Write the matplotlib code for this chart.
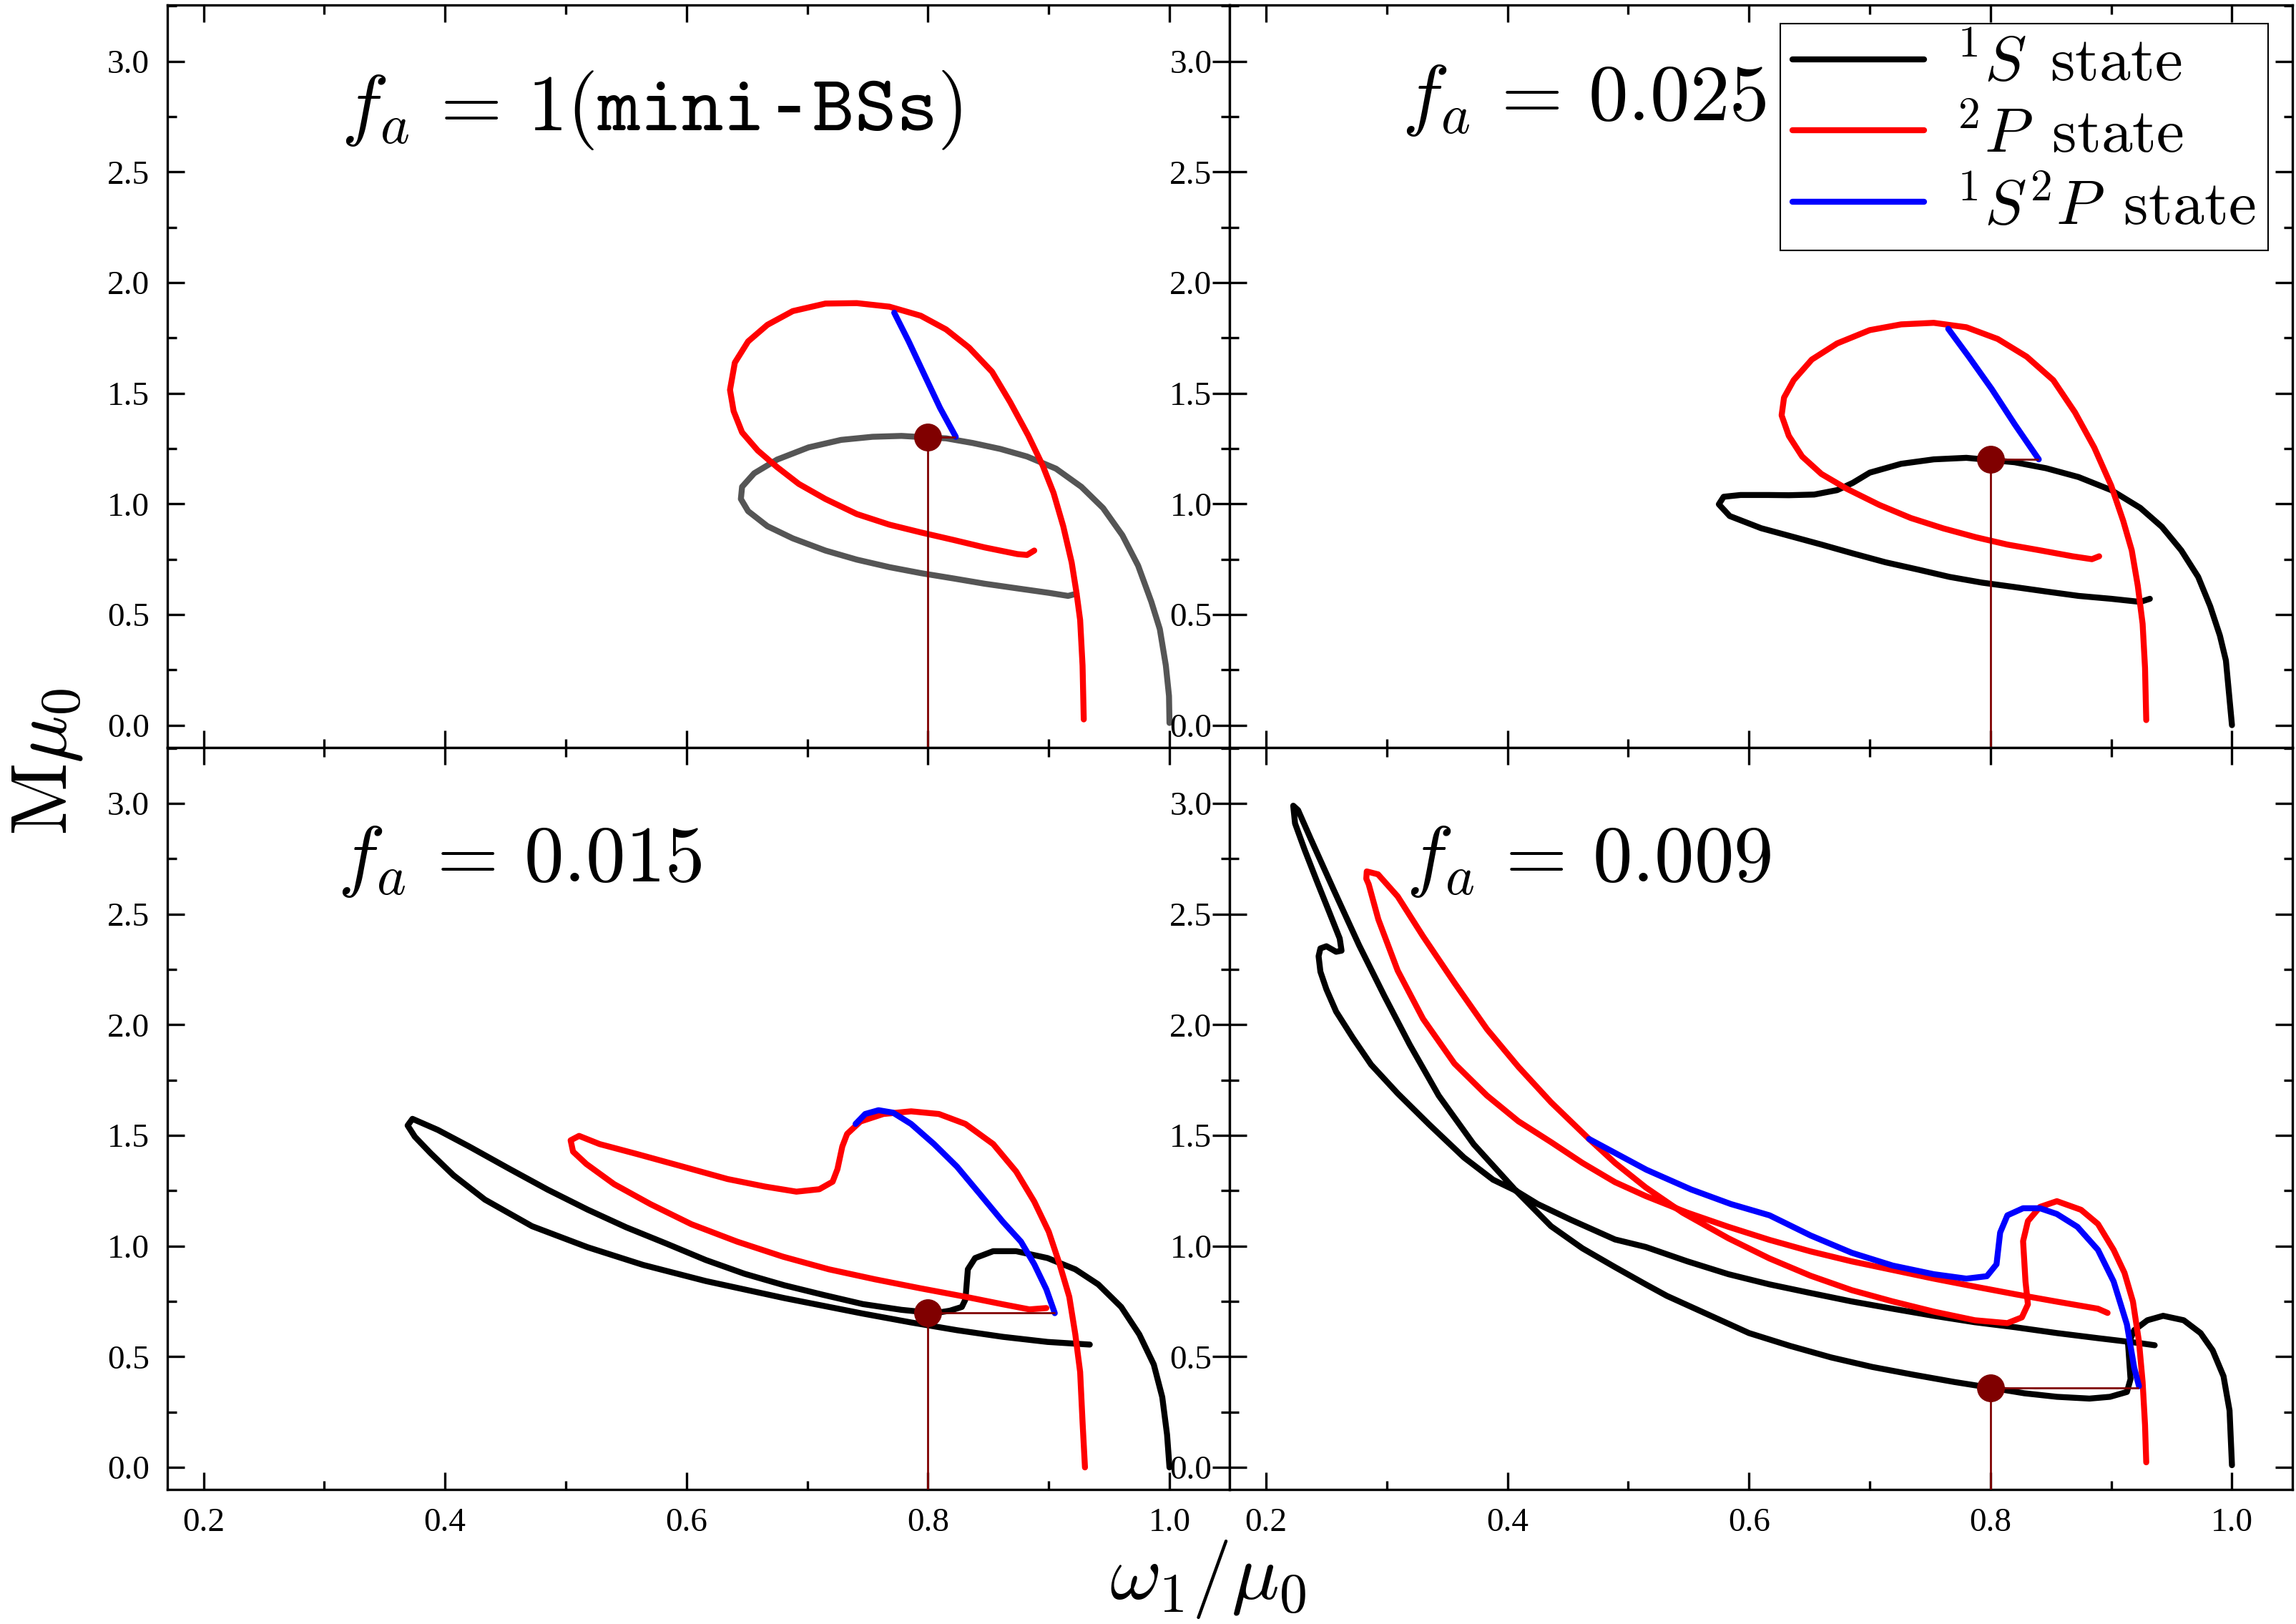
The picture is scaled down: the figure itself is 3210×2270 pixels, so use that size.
import matplotlib.pyplot as plt
from matplotlib.ticker import MultipleLocator, FormatStrFormatter

plt.rcParams['mathtext.fontset'] = 'cm'
plt.rcParams['font.family'] = ['Liberation Serif', 'DejaVu Serif']

# ---- f_a = 1 (mini-BSs) ----
s1_x = [1.000, 0.9996, 0.997, 0.992, 0.985, 0.974, 0.961, 0.945, 0.927, 0.906, 0.882, 0.860,
        0.837, 0.815, 0.800, 0.778, 0.754, 0.728, 0.701, 0.675, 0.656, 0.646, 0.645, 0.651,
        0.667, 0.688, 0.715, 0.741, 0.768, 0.794, 0.821, 0.847, 0.874, 0.900, 0.916, 0.923]
s1_y = [0.010, 0.132, 0.269, 0.434, 0.557, 0.721, 0.858, 0.981, 1.077, 1.159, 1.214, 1.248,
        1.275, 1.296, 1.300, 1.307, 1.303, 1.289, 1.255, 1.200, 1.138, 1.077, 1.022, 0.967,
        0.899, 0.844, 0.789, 0.748, 0.714, 0.687, 0.663, 0.639, 0.618, 0.598, 0.584, 0.594]
p1_x = [0.929, 0.928, 0.926, 0.923, 0.919, 0.912, 0.904, 0.895, 0.883, 0.868, 0.853, 0.834,
        0.815, 0.794, 0.768, 0.741, 0.715, 0.688, 0.667, 0.651, 0.640, 0.636, 0.639, 0.646,
        0.659, 0.675, 0.693, 0.715, 0.741, 0.768, 0.794, 0.821, 0.847, 0.874, 0.882, 0.888]
p1_y = [0.026, 0.269, 0.475, 0.598, 0.735, 0.899, 1.049, 1.173, 1.309, 1.460, 1.597, 1.706,
        1.788, 1.850, 1.891, 1.907, 1.905, 1.871, 1.809, 1.734, 1.638, 1.515, 1.419, 1.323,
        1.241, 1.166, 1.090, 1.022, 0.954, 0.906, 0.871, 0.837, 0.803, 0.773, 0.769, 0.789]
sp1_x = [0.772, 0.784, 0.797, 0.810, 0.823]
sp1_y = [1.864, 1.734, 1.583, 1.433, 1.303]

# ---- f_a = 0.025 ----
s2_x = [1.000, 0.995, 0.990, 0.982, 0.972, 0.958, 0.942, 0.924, 0.900, 0.873, 0.846, 0.820,
        0.800, 0.780, 0.753, 0.726, 0.700, 0.686, 0.673, 0.654, 0.633, 0.616, 0.593, 0.579,
        0.575, 0.584, 0.610, 0.633, 0.660, 0.686, 0.713, 0.740, 0.766, 0.793, 0.820, 0.846,
        0.873, 0.900, 0.924, 0.932]
s2_y = [0.000, 0.292, 0.405, 0.537, 0.670, 0.790, 0.896, 0.982, 1.062, 1.121, 1.161, 1.188,
        1.198, 1.208, 1.201, 1.181, 1.141, 1.095, 1.062, 1.042, 1.039, 1.040, 1.040, 1.032,
        0.998, 0.945, 0.890, 0.856, 0.816, 0.776, 0.736, 0.703, 0.670, 0.644, 0.624, 0.604,
        0.584, 0.571, 0.557, 0.571]
p2_x = [0.929, 0.928, 0.926, 0.922, 0.917, 0.910, 0.900, 0.886, 0.870, 0.852, 0.830, 0.806,
        0.780, 0.753, 0.726, 0.700, 0.673, 0.652, 0.637, 0.629, 0.627, 0.633, 0.644, 0.660,
        0.681, 0.708, 0.734, 0.761, 0.788, 0.814, 0.841, 0.868, 0.884, 0.890]
p2_y = [0.023, 0.259, 0.458, 0.630, 0.790, 0.922, 1.082, 1.254, 1.413, 1.559, 1.665, 1.745,
        1.798, 1.818, 1.811, 1.785, 1.725, 1.652, 1.559, 1.480, 1.400, 1.307, 1.214, 1.135,
        1.068, 0.995, 0.936, 0.889, 0.849, 0.816, 0.790, 0.763, 0.750, 0.763]
sp2_x = [0.765, 0.782, 0.801, 0.820, 0.840]
sp2_y = [1.791, 1.665, 1.519, 1.360, 1.201]

# ---- f_a = 0.015 ----
s3_x = [1.000, 0.998, 0.994, 0.987, 0.975, 0.960, 0.941, 0.922, 0.899, 0.873, 0.854, 0.839,
        0.833, 0.831, 0.828, 0.818, 0.809, 0.800, 0.778, 0.746, 0.713, 0.681, 0.648, 0.616,
        0.583, 0.550, 0.518, 0.485, 0.453, 0.420, 0.394, 0.373, 0.369, 0.375, 0.388, 0.407,
        0.433, 0.472, 0.518, 0.564, 0.616, 0.681, 0.746, 0.786, 0.824, 0.862, 0.899, 0.934]
s3_y = [0.000, 0.148, 0.318, 0.465, 0.601, 0.725, 0.827, 0.895, 0.946, 0.977, 0.977, 0.946,
        0.895, 0.759, 0.725, 0.708, 0.700, 0.700, 0.712, 0.738, 0.780, 0.823, 0.875, 0.937,
        1.012, 1.085, 1.165, 1.255, 1.350, 1.450, 1.525, 1.575, 1.545, 1.494, 1.420, 1.320,
        1.210, 1.090, 0.995, 0.915, 0.842, 0.765, 0.695, 0.655, 0.620, 0.590, 0.567, 0.555]
p3_x = [0.930, 0.928, 0.926, 0.922, 0.917, 0.909, 0.900, 0.888, 0.873, 0.854, 0.831, 0.809,
        0.786, 0.763, 0.744, 0.733, 0.729, 0.725, 0.721, 0.710, 0.691, 0.665, 0.634, 0.597,
        0.559, 0.528, 0.511, 0.504, 0.506, 0.517, 0.540, 0.570, 0.604, 0.642, 0.680, 0.718,
        0.756, 0.793, 0.831, 0.862, 0.884, 0.898]
p3_y = [0.000, 0.205, 0.431, 0.601, 0.771, 0.918, 1.065, 1.201, 1.337, 1.461, 1.552, 1.597,
        1.609, 1.597, 1.563, 1.507, 1.450, 1.348, 1.291, 1.257, 1.246, 1.269, 1.303, 1.359,
        1.416, 1.461, 1.498, 1.478, 1.427, 1.371, 1.280, 1.190, 1.099, 1.020, 0.952, 0.895,
        0.850, 0.810, 0.771, 0.737, 0.714, 0.720]
sp3_x = [0.740, 0.748, 0.759, 0.771, 0.786, 0.805, 0.824, 0.843, 0.862, 0.877, 0.888, 0.898, 0.905]
sp3_y = [1.552, 1.597, 1.614, 1.603, 1.552, 1.461, 1.359, 1.235, 1.110, 1.020, 0.918, 0.805, 0.697]

# ---- f_a = 0.009 ----
s4_x = [1.000, 0.998, 0.993, 0.984, 0.974, 0.960, 0.943, 0.930, 0.919, 0.914, 0.916, 0.913,
        0.899, 0.882, 0.855, 0.828, 0.800, 0.770, 0.736, 0.702, 0.668, 0.634, 0.600, 0.566,
        0.532, 0.5145, 0.489, 0.462, 0.436, 0.407, 0.372, 0.343, 0.319, 0.298, 0.277, 0.256,
        0.237, 0.2265, 0.2225, 0.224, 0.232, 0.242, 0.253, 0.261, 0.2625, 0.258, 0.250, 0.245,
        0.2435, 0.245, 0.250, 0.258, 0.272, 0.287, 0.309, 0.335, 0.364, 0.388, 0.407, 0.425,
        0.452, 0.489, 0.5145, 0.549, 0.583, 0.617, 0.651, 0.685, 0.719, 0.753, 0.787, 0.821,
        0.855, 0.889, 0.923, 0.936]
s4_y = [0.010, 0.257, 0.412, 0.529, 0.607, 0.665, 0.685, 0.665, 0.620, 0.555, 0.399, 0.341,
        0.319, 0.311, 0.319, 0.335, 0.360, 0.386, 0.419, 0.454, 0.497, 0.549, 0.607, 0.691,
        0.775, 0.827, 0.905, 0.990, 1.090, 1.250, 1.460, 1.680, 1.910, 2.130, 2.360, 2.610,
        2.840, 2.970, 2.990, 2.910, 2.790, 2.650, 2.500, 2.390, 2.335, 2.330, 2.355, 2.345,
        2.310, 2.240, 2.160, 2.060, 1.940, 1.820, 1.690, 1.550, 1.400, 1.300, 1.250, 1.190,
        1.120, 1.030, 0.996, 0.931, 0.873, 0.827, 0.788, 0.750, 0.717, 0.685, 0.656, 0.633,
        0.607, 0.584, 0.562, 0.552]
p4_x = [0.929, 0.928, 0.926, 0.923, 0.918, 0.911, 0.902, 0.889, 0.875, 0.855, 0.841, 0.831,
        0.827, 0.829, 0.831, 0.826, 0.814, 0.787, 0.753, 0.719, 0.685, 0.651, 0.617, 0.583,
        0.545, 0.5145, 0.489, 0.4675, 0.436, 0.409, 0.383, 0.356, 0.330, 0.309, 0.2927, 0.2834,
        0.283, 0.285, 0.293, 0.309, 0.330, 0.356, 0.383, 0.409, 0.436, 0.462, 0.489, 0.5145,
        0.549, 0.583, 0.617, 0.651, 0.685, 0.719, 0.753, 0.787, 0.821, 0.855, 0.889, 0.897]
p4_y = [0.023, 0.192, 0.386, 0.568, 0.749, 0.879, 0.983, 1.100, 1.164, 1.203, 1.177, 1.113,
        1.022, 0.840, 0.737, 0.678, 0.652, 0.665, 0.704, 0.750, 0.801, 0.866, 0.944, 1.035,
        1.151, 1.265, 1.376, 1.484, 1.650, 1.810, 1.980, 2.190, 2.400, 2.580, 2.680, 2.693,
        2.660, 2.635, 2.476, 2.245, 2.027, 1.825, 1.680, 1.564, 1.470, 1.376, 1.289, 1.226,
        1.151, 1.087, 1.028, 0.976, 0.931, 0.892, 0.853, 0.817, 0.782, 0.749, 0.717, 0.698]
sp4_x = [0.4675, 0.515, 0.552, 0.585, 0.617, 0.651, 0.685, 0.719, 0.753, 0.780, 0.797, 0.805,
         0.808, 0.814, 0.827, 0.841, 0.855, 0.872, 0.889, 0.902, 0.913, 0.919, 0.923]
sp4_y = [1.484, 1.345, 1.256, 1.190, 1.139, 1.048, 0.970, 0.912, 0.873, 0.853, 0.864, 0.918,
         1.061, 1.139, 1.171, 1.171, 1.145, 1.087, 0.983, 0.840, 0.646, 0.451, 0.367]

titles = [r'$f_a\,=\,1(\mathtt{mini}$-$\mathtt{BSs})$', r'$f_a\,=\,0.025$',
          r'$f_a\,=\,0.015$', r'$f_a\,=\,0.009$']
point_x = [0.8, 0.8, 0.8, 0.8]
point_y = [1.30, 1.20, 0.70, 0.36]

S_data = [(s1_x, s1_y), (s2_x, s2_y), (s3_x, s3_y), (s4_x, s4_y)]
P_data = [(p1_x, p1_y), (p2_x, p2_y), (p3_x, p3_y), (p4_x, p4_y)]
SP_data = [(sp1_x, sp1_y), (sp2_x, sp2_y), (sp3_x, sp3_y), (sp4_x, sp4_y)]
s_colors = ['#555555', 'black', 'black', 'black']
title_pos = [(0.1635, 0.831), (0.162, 0.845), (0.160, 0.819), (0.166, 0.819)]

fig, axs = plt.subplots(2, 2, figsize=(32.1, 22.7), dpi=100)
fig.subplots_adjust(left=0.0729, right=0.9984, top=0.9969, bottom=0.0828, wspace=0, hspace=0)

lw = 6
for i, ax in enumerate(axs.flat):
    ax.plot(*S_data[i], color=s_colors[i], lw=lw, solid_capstyle='round', solid_joinstyle='round',
            label=r'$^{1}S\ \,\mathrm{state}$')
    ax.plot(*P_data[i], color='red', lw=lw, solid_capstyle='round', solid_joinstyle='round',
            label=r'$^{2}P\ \,\mathrm{state}$')
    ax.plot(*SP_data[i], color='blue', lw=lw, solid_capstyle='round', solid_joinstyle='round',
            label=r'$^{1}S^{2}P\ \,\mathrm{state}$')

    ax.set_xlim(0.17, 1.05)
    ax.set_ylim(-0.1, 3.254)
    # 交点から下への線と右への線
    ax.vlines(point_x[i], ax.get_ylim()[0], point_y[i], color='#800000', lw=2, zorder=4)
    ax.hlines(point_y[i], point_x[i], SP_data[i][0][-1], color='#800000', lw=2, zorder=4)
    ax.plot(point_x[i], point_y[i], 'o', color='#800000', ms=27, zorder=5)

    ax.text(title_pos[i][0], title_pos[i][1], titles[i], transform=ax.transAxes,
            fontsize=80, va='baseline', ha='left', family=['Liberation Mono', 'DejaVu Sans'])

    ax.xaxis.set_major_locator(MultipleLocator(0.2))
    ax.xaxis.set_minor_locator(MultipleLocator(0.1))
    ax.yaxis.set_major_locator(MultipleLocator(0.5))
    ax.yaxis.set_minor_locator(MultipleLocator(0.25))
    ax.xaxis.set_major_formatter(FormatStrFormatter('%.1f'))
    ax.yaxis.set_major_formatter(FormatStrFormatter('%.1f'))
    ax.tick_params(which='both', direction='in', top=True, right=True, width=2.4)
    ax.tick_params(which='major', length=17, labelsize=34, pad=18)
    ax.tick_params(which='minor', length=9)
    for sp in ax.spines.values():
        sp.set_linewidth(2.4)

leg = axs[0, 1].legend(loc='upper right', bbox_to_anchor=(0.977, 0.975), borderaxespad=0,
                       fontsize=63, fancybox=False, framealpha=1, edgecolor='black',
                       handlelength=2.1, handletextpad=0.5, borderpad=0.2, labelspacing=0.2)
leg.get_frame().set_linewidth(1.5)

fig.text(0.526, 0.0154, r'$\omega_1/\mu_0$', fontsize=80, ha='center', va='baseline')
fig.text(0.0206, 0.531, r'$\mathrm{M}\mu_0$', fontsize=80, rotation=90, ha='center', va='center')

fig.savefig('out.png', dpi=100)
